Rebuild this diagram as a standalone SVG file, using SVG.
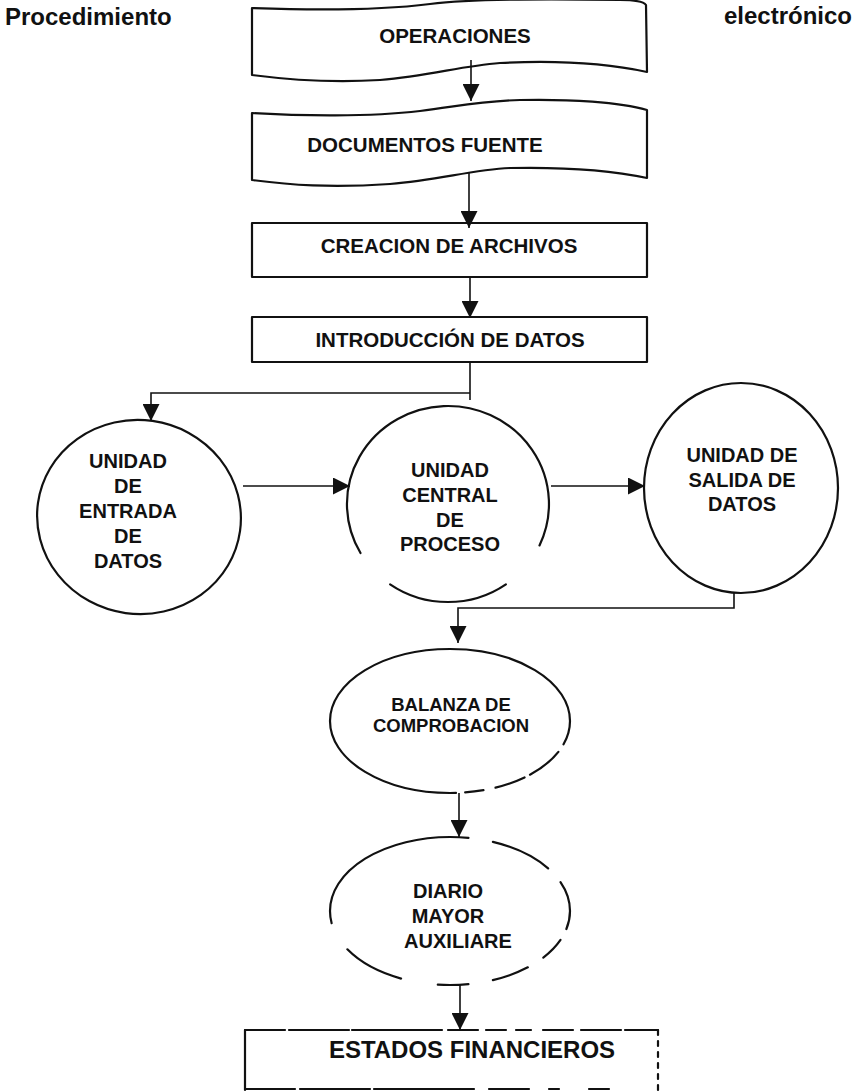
<svg xmlns="http://www.w3.org/2000/svg" width="859" height="1092" viewBox="0 0 859 1092">
<style>
.shape{fill:none;stroke:#111;stroke-width:2.2;stroke-linejoin:round;stroke-linecap:round}
.t{font-family:"Liberation Sans",Arial,sans-serif;font-weight:bold;fill:#111;text-anchor:middle}
.box{font-size:20.5px}
.ell{font-size:20px}
.bal{font-size:18.5px}
.big{font-size:24px}
.title{font-family:"Liberation Sans",Arial,sans-serif;font-weight:bold;font-size:24px;fill:#111}
.conn{fill:none;stroke:#111;stroke-width:1.6}
.arr{marker-end:url(#ah)}
</style>
<defs>
<marker id="ah" markerUnits="userSpaceOnUse" markerWidth="17" markerHeight="17" refX="17" refY="8.5" orient="auto" viewBox="0 0 17 17">
<path d="M0,0 L17,8.5 L0,17 z" fill="#111"/>
</marker>
</defs>
<rect width="859" height="1092" fill="#fff"/>

<text class="title" x="5" y="25">Procedimiento</text>
<text class="title" x="852" y="24" text-anchor="end">electrónico</text>

<g id="operaciones">
<path class="shape" d="M252,8 C330,11 390,9 430,4 C470,-1 560,-1 620,0 C635,0 644,2 646,5 L647,72 C610,64 560,60 500,63 C460,66 430,76 380,80 C330,83 290,80 252,75 Z"/>
<text class="t box" x="455" y="43">OPERACIONES</text>
</g>

<g id="documentos">
<path class="shape" d="M252,113 C300,116 370,117 420,111 C460,106 480,101 520,100 C570,99 620,102 647,110 L647,178 C610,170 560,167 510,168 C470,170 440,180 390,184 C330,188 290,185 252,180 Z"/>
<text class="t box" x="425" y="152">DOCUMENTOS FUENTE</text>
</g>

<g id="creacion">
<rect class="shape" x="252" y="223" width="395" height="54"/>
<text class="t box" x="449" y="253">CREACION DE ARCHIVOS</text>
</g>

<g id="introduccion">
<rect class="shape" x="252" y="317" width="395" height="45"/>
<text class="t box" x="450" y="347">INTRODUCCIÓN DE DATOS</text>
</g>

<g id="entrada">
<ellipse class="shape" cx="139" cy="517" rx="102" ry="97" transform="rotate(8 139 517)"/>
<text class="t ell" x="128" y="468">UNIDAD</text>
<text class="t ell" x="128" y="493">DE</text>
<text class="t ell" x="128" y="518">ENTRADA</text>
<text class="t ell" x="128" y="543">DE</text>
<text class="t ell" x="128" y="568">DATOS</text>
</g>

<g id="central">
<path class="shape" d="M360.5,553 A101,98 0 1 1 539.5,545.4"/>
<path class="shape" d="M505.9,584.3 A101,98 0 0 1 390.1,584.3"/>
<text class="t ell" x="450" y="477">UNIDAD</text>
<text class="t ell" x="450" y="502">CENTRAL</text>
<text class="t ell" x="450" y="527">DE</text>
<text class="t ell" x="450" y="551">PROCESO</text>
</g>

<g id="salida">
<ellipse class="shape" cx="741" cy="488" rx="97" ry="105"/>
<text class="t ell" x="742" y="462">UNIDAD DE</text>
<text class="t ell" x="742" y="487">SALIDA DE</text>
<text class="t ell" x="742" y="511">DATOS</text>
</g>

<g id="balanza">
<path class="shape" pathLength="100" stroke-dasharray="4 1.5 6 1 5 2 3 1.5 77" d="M570,721 A120,72 0 1 1 330,721 A120,72 0 1 1 570,721"/>
<text class="t bal" x="451" y="711">BALANZA DE</text>
<text class="t bal" x="451" y="732">COMPROBACION</text>
</g>

<g id="diario">
<path class="shape" pathLength="100" stroke-dasharray="3 2 4 3 6 4 5 6 10 5 30 4 10 3 5" d="M570,911 A120,74 0 1 1 330,911 A120,74 0 1 1 570,911"/>
<text class="t ell" x="448" y="898">DIARIO</text>
<text class="t ell" x="448" y="923">MAYOR</text>
<text class="t ell" x="458" y="948">AUXILIARE</text>
</g>

<g id="estados">
<path class="shape" d="M245,1030 V1090"/>
<path class="shape" stroke-dasharray="40 4 60 3 90 6 30 8 20 10 15 12 30 8" d="M245,1030 H658"/>
<path class="shape" stroke-dasharray="5 6" d="M658,1030 V1090"/>
<path class="shape" stroke-dasharray="50 5 70 4 100 15 40 20 10 30 20" d="M245,1089 H658"/>
<text class="t big" x="472" y="1058">ESTADOS FINANCIEROS</text>
</g>

<g id="connectors">
<path class="conn arr" d="M471,60 V101"/>
<path class="conn arr" d="M469,172 V228"/>
<path class="conn arr" d="M470,277 V318"/>
<path class="conn" d="M470,362 V400"/>
<path class="conn arr" d="M470,393 H151 V421"/>
<path class="conn arr" d="M243,486 H350"/>
<path class="conn arr" d="M551,486 H645"/>
<path class="conn arr" d="M734,593 V608 H458 V643"/>
<path class="conn arr" d="M459,793 V837"/>
<path class="conn arr" d="M460,985 V1030"/>
</g>
</svg>
